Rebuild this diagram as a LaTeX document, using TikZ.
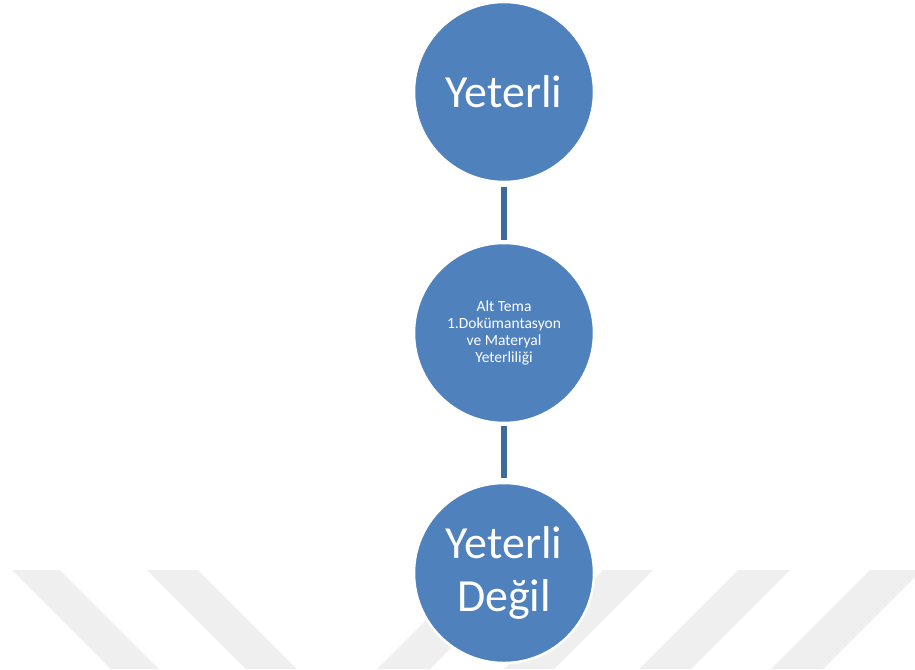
\documentclass[tikz,border=0pt]{standalone}
\usepackage{fontspec}
\setmainfont{Carlito}
\definecolor{bubble}{HTML}{4F81BD}
\definecolor{linkline}{HTML}{3D6A9C}
\definecolor{mark}{HTML}{EFEFEF}
\begin{document}
\begin{tikzpicture}[x=1pt,y=-1pt,
  bubble/.style={circle,fill=bubble,draw=white,line width=2.5pt,
    minimum size=180pt,inner sep=0pt,text=white,align=center},
  bigtext/.style={font=\fontsize{46}{53}\selectfont},
  smalltext/.style={font=\fontsize{15.5}{16.8}\selectfont},
  link/.style={draw=linkline,line width=6pt},
  band/.style={fill=mark,draw=none}]
\useasboundingbox (0,0) rectangle (915,669);
\fill[white] (0,0) rectangle (915,669);
% faint diagonal bands along the bottom edge
\begin{scope}
\clip (0,570) rectangle (915,669);
\path[band] (12,570) -- (60,570) -- (159,669) -- (111,669) -- cycle;
\path[band] (147,570) -- (198,570) -- (297,669) -- (246,669) -- cycle;
\path[band] (476,570) -- (529,570) -- (430,669) -- (377,669) -- cycle;
\path[band] (603,570) -- (653,570) -- (554,669) -- (504,669) -- cycle;
\path[band] (738,570) -- (790,570) -- (691,669) -- (639,669) -- cycle;
\path[band] (870,570) -- (922,570) -- (823,669) -- (771,669) -- cycle;
\end{scope}
% the three stages
\node[bubble,bigtext] (top) at (504,92) {Yeterli};
\node[bubble,smalltext] (mid) at (504,333) {Alt Tema\\1.Dokümantasyon\\ve Materyal\\Yeterliliği};
\node[bubble,bigtext] (bot) at (504,573) {Yeterli\\Değil};
% connectors between the stages
\draw[link,shorten <=4pt,shorten >=2pt] (top.south) -- (mid.north);
\draw[link,shorten <=2pt,shorten >=4pt] (mid.south) -- (bot.north);
\end{tikzpicture}
\end{document}
